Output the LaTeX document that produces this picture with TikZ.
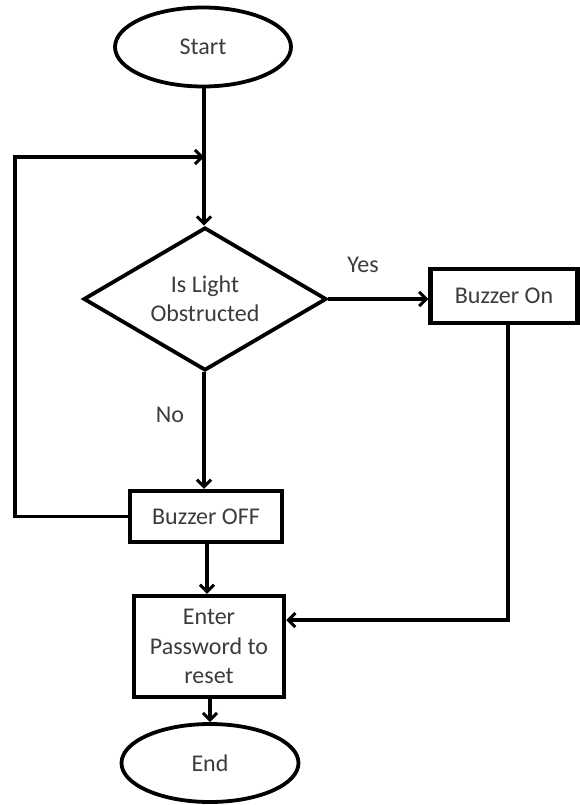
\documentclass[tikz,border=0pt]{standalone}
\usepackage{fontspec}
\setmainfont{Carlito}
\usetikzlibrary{shapes.geometric,arrows.meta,calc}
\definecolor{txt}{HTML}{3C3C3C}
\tikzset{
  base/.style={draw=black,line width=3.8pt,text=txt,font=\fontsize{24}{29.5}\selectfont,align=center,inner sep=0pt},
  oval/.style={base,ellipse},
  boxn/.style={base,rectangle,line width=4.5pt},
  dia/.style={base,diamond},
  lbl/.style={text=txt,font=\fontsize{24}{29.5}\selectfont,inner sep=0pt},
  conn/.style={line width=3.6pt,-{Straight Barb[length=7pt,width=14pt,line width=3pt]}},
  plain/.style={line width=3.6pt}
}
\begin{document}
\begin{tikzpicture}[x=1pt,y=-1pt]
\useasboundingbox[fill=white] (0,0) rectangle (580,805);
\node[oval,minimum width=176pt,minimum height=79pt] (start) at (203,47) {Start};
\node[dia,minimum width=243pt,minimum height=143pt,aspect=1.7] (dec) at (205,299) {Is Light\\Obstructed};
\node[boxn,minimum width=147pt,minimum height=54pt] (on) at (504,296) {Buzzer On};
\node[boxn,minimum width=152pt,minimum height=51pt] (off) at (206,516.5) {Buzzer OFF};
\node[boxn,minimum width=150pt,minimum height=101pt] (enter) at (209,646.5) {Enter\\Password to\\reset};
\node[oval,minimum width=177pt,minimum height=78pt] (end) at (210,763) {End};
\node[lbl] (yes) at (363,265) {Yes};
\node[lbl] (no) at (170,415) {No};
\coordinate (j) at (204,157);
\coordinate (lc) at (15,157);
\coordinate (rc) at (508,620);
\draw[conn] (start.south -| j) -- (dec.north -| j);
\draw[conn] (off.west) -| (lc) -- (j);
\draw[conn] (dec.east) -- (dec.east -| on.west);
\draw[conn] (dec.south -| j) -- (off.north -| j);
\draw[conn] (off.south -| 207,0) -- (enter.north -| 207,0);
\draw[conn] (on.south -| rc) -- (rc) -- (rc -| enter.east);
\draw[conn] (enter.south -| end.north) -- (end.north);
\end{tikzpicture}
\end{document}
